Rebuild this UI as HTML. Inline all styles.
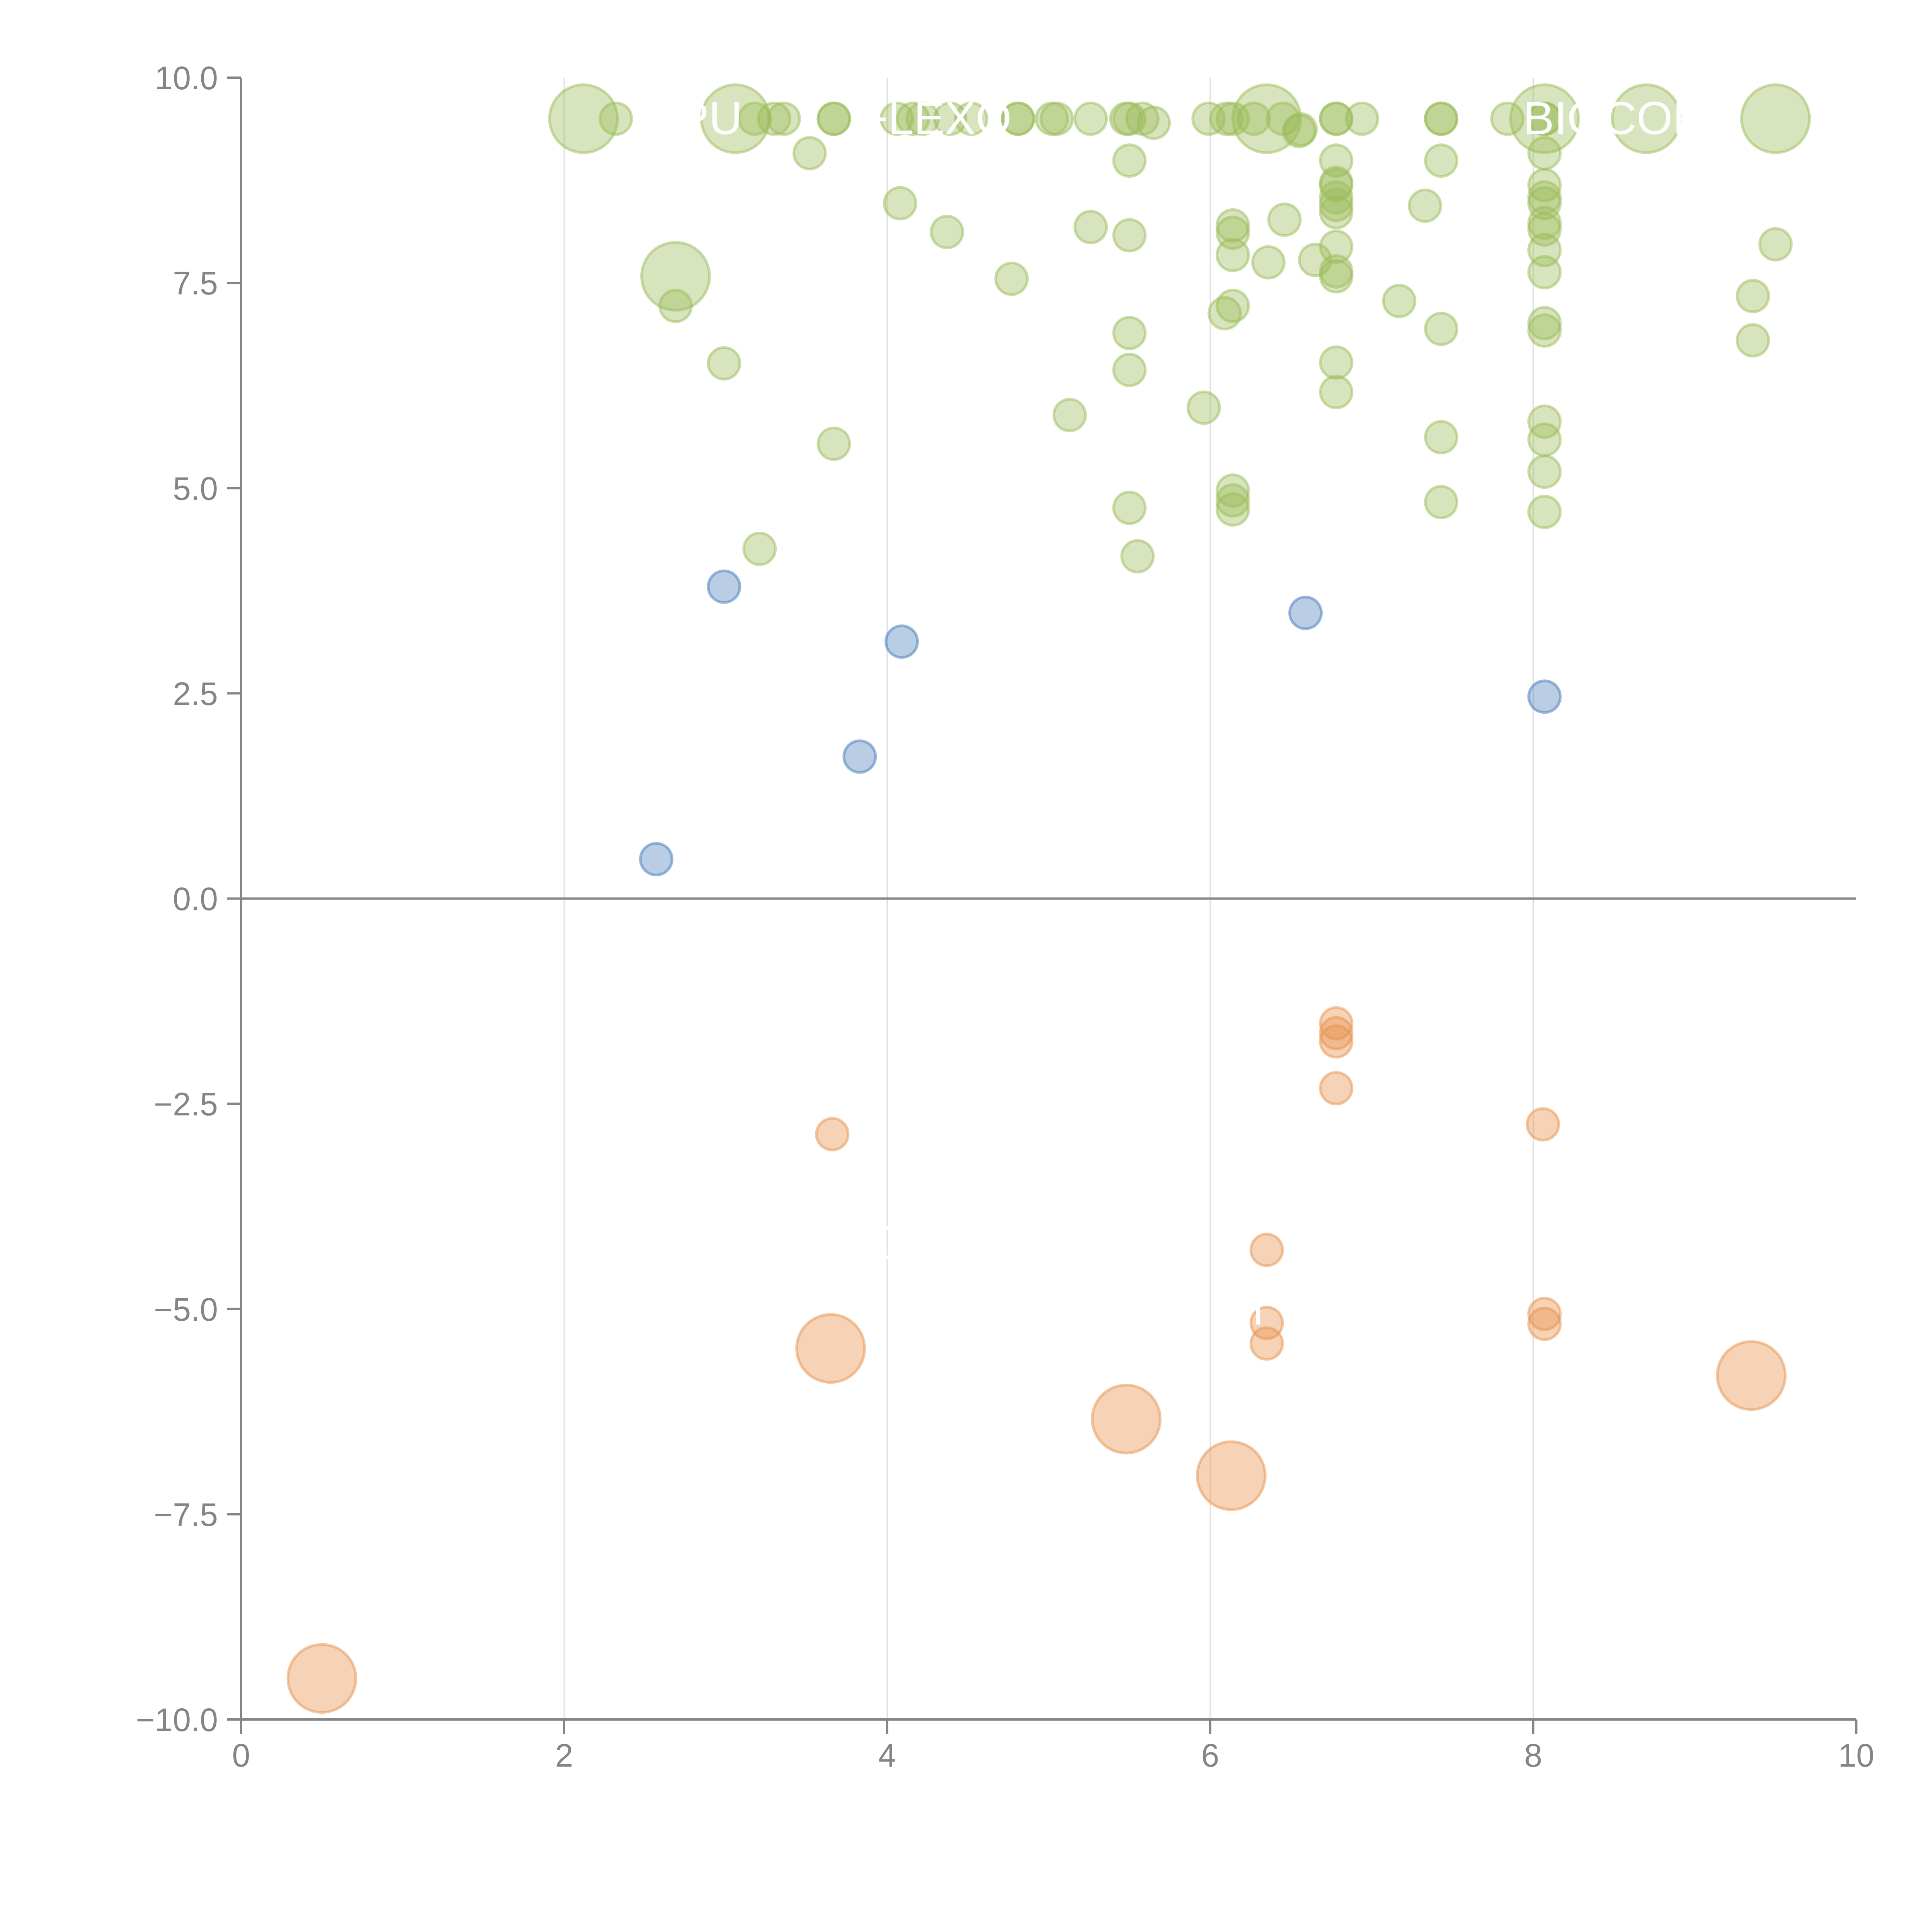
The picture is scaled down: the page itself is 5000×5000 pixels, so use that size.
<!DOCTYPE html>
<html><head><meta charset="utf-8"><style>
html,body{margin:0;padding:0;background:#fff}
svg{display:block}
text{font-family:"Liberation Sans",Arial,sans-serif}
</style></head><body>
<svg id="chart" width="5000" height="5000" viewBox="0 0 5000 5000" xmlns="http://www.w3.org/2000/svg">
<g id="grid"></g>
<g id="axes"></g>
<g id="marks"></g>
<g id="labels"></g>
</svg>
<script>
const xTicks=[0,2,4,6,8,10];
const yTicks=[10,7.5,5,2.5,0,-2.5,-5,-7.5,-10];
const yTickLabels=["10.0","7.5","5.0","2.5","0.0","\u22122.5","\u22125.0","\u22127.5","\u221210.0"];

const blueX=[2.57,2.99,3.83,4.09,6.59,8.07];
const blueY=[0.48,3.80,1.73,3.13,3.48,2.46];
const blueS=[1,1,1,1,1,1];

const orangeX=[3.66,6.78,6.78,6.78,6.78,8.06,6.35,6.35,6.35,8.07,8.07,0.50,3.65,5.48,6.13,9.35];
const orangeY=[-2.87,-1.52,-1.64,-1.74,-2.31,-2.75,-4.28,-5.17,-5.42,-5.06,-5.18,-9.50,-5.48,-6.34,-7.03,-5.81];
const orangeS=[1,1,1,1,1,1,1,1,1,1,1,4.6,4.6,4.6,4.6,4.6];

const greenBigX=[2.12,3.06,6.35,8.07,8.70,9.50,2.69];
const greenBigY=[9.5,9.5,9.5,9.5,9.5,9.5,7.58];

const greenTopX=[2.32,3.18,3.30,3.36,3.67,3.67,4.06,4.16,4.22,4.39,4.52,4.81,4.81,5.02,5.05,5.26,5.48,5.50,5.58,5.65,5.99,6.10,6.14,6.27,6.45,6.55,6.78,6.78,6.94,7.43,7.43,7.84,8.07,8.07];
const greenTopY=[9.5,9.5,9.5,9.5,9.5,9.5,9.5,9.5,9.5,9.5,9.5,9.5,9.5,9.5,9.5,9.5,9.5,9.5,9.5,9.45,9.5,9.5,9.5,9.5,9.5,9.35,9.5,9.5,9.5,9.5,9.5,9.5,9.5,9.5];

const greenX=[3.52,4.08,4.37,4.77,5.26,5.50,5.50,5.50,5.50,5.13,5.96,3.67,2.99,2.69,3.21,5.50,5.55,
6.14,6.14,6.14,6.09,6.14,6.36,6.46,6.56,6.65,
6.78,6.78,6.78,6.78,6.78,6.78,6.78,6.78,6.78,6.78,6.78,
6.14,6.14,6.14,7.17,7.33,7.43,7.43,7.43,7.43,
8.07,8.07,8.07,8.07,8.07,8.07,8.07,8.07,8.07,8.07,8.07,8.07,8.07,8.07,
9.36,9.36,9.50];
const greenY=[9.08,8.47,8.12,7.55,8.18,8.99,8.08,6.89,6.44,5.89,5.98,5.54,6.52,7.22,4.26,4.76,4.17,
8.20,8.11,7.84,7.13,7.22,7.75,8.27,9.37,7.78,
8.99,8.72,8.69,8.54,8.45,8.36,7.94,7.64,7.58,6.53,6.17,
4.97,4.85,4.74,7.28,8.44,8.99,6.94,5.62,4.83,
9.08,8.69,8.54,8.47,8.23,8.15,7.90,7.63,7.01,6.92,5.81,5.59,5.20,4.71,
7.34,6.80,7.97];

const labelTexts=["CPU","FLEXO","LT","BIOCORE","SC","ST"];
const labelX=[2.8,4.3,7.2,8.6,3.9,6.2];
const labelY=[9.5,9.5,9.5,9.5,-4.2,-5.0];

const X0=624,X1=4804,Y0=4450,Y1=201;
function xs(v){return X0+(v-0)/(10-0)*(X1-X0);}
function ys(v){return Y0-(v-(-10))/(20)*(Y0-Y1);}
function rs(s){return 41*Math.sqrt(s);}
const NS="http://www.w3.org/2000/svg";
function mk(tag,attrs,parent){const e=document.createElementNS(NS,tag);for(const k in attrs)e.setAttribute(k,attrs[k]);parent.appendChild(e);return e;}

const grid=document.getElementById('grid'),axes=document.getElementById('axes'),marks=document.getElementById('marks'),labels=document.getElementById('labels');
xTicks.forEach(t=>{if(t>0&&t<10){const l=mk('line',{x1:xs(t),x2:xs(t),y1:Y1,y2:Y0,stroke:'#dcdcdc','stroke-width':3},grid);

}});
const z=mk('line',{x1:X0,x2:X1,y1:ys(0),y2:ys(0),stroke:'#858585','stroke-width':6},axes);


const ya=mk('line',{x1:X0,x2:X0,y1:Y1,y2:Y0,stroke:'#858585','stroke-width':6},axes);


const xa=mk('line',{x1:X0,x2:X1,y1:Y0,y2:Y0,stroke:'#858585','stroke-width':6},axes);


xTicks.forEach(t=>{const tk=mk('line',{x1:xs(t),x2:xs(t),y1:Y0,y2:Y0+37,stroke:'#858585','stroke-width':6},axes);


const tx=mk('text',{x:xs(t),y:Y0+122,'text-anchor':'middle','font-size':84,fill:'#858585'},axes);tx.textContent=String(t);

});
yTicks.forEach((t,i)=>{const tk=mk('line',{x1:X0-36,x2:X0,y1:ys(t),y2:ys(t),stroke:'#858585','stroke-width':6},axes);


const tx=mk('text',{x:X0-60,y:ys(t)+30,'text-anchor':'end','font-size':84,fill:'#858585'},axes);tx.textContent=yTickLabels[i];

});

function series(xa,ya,s,fill,stroke,name){
  for(let i=0;i<xa.length;i++){
    const sz=Array.isArray(s)?s[i]:s;
    const c=mk('circle',{cx:xs(xa[i]),cy:ys(ya[i]),r:rs(sz),fill:fill,stroke:stroke,'stroke-width':7},marks);
    
    
  }
}
const gF='rgba(155,187,89,0.4)',gS='rgba(155,187,89,0.5)';
series(greenBigX,greenBigY,4.6,gF,gS,'green-bubble-large');
series(greenTopX,greenTopY,1,gF,gS,'green-bubble');
series(greenX,greenY,1,gF,gS,'green-bubble');
series(orangeX,orangeY,orangeS,'rgba(232,145,75,0.4)','rgba(232,145,75,0.5)','orange-bubble');
series(blueX,blueY,blueS,'rgba(79,129,189,0.4)','rgba(79,129,189,0.55)','blue-bubble');

labelTexts.forEach((t,i)=>{const tx=mk('text',{x:xs(labelX[i]),y:ys(labelY[i])+40,'text-anchor':'middle','font-size':120,fill:'#ffffff'},labels);tx.textContent=t;

});
</script>
</body></html>
